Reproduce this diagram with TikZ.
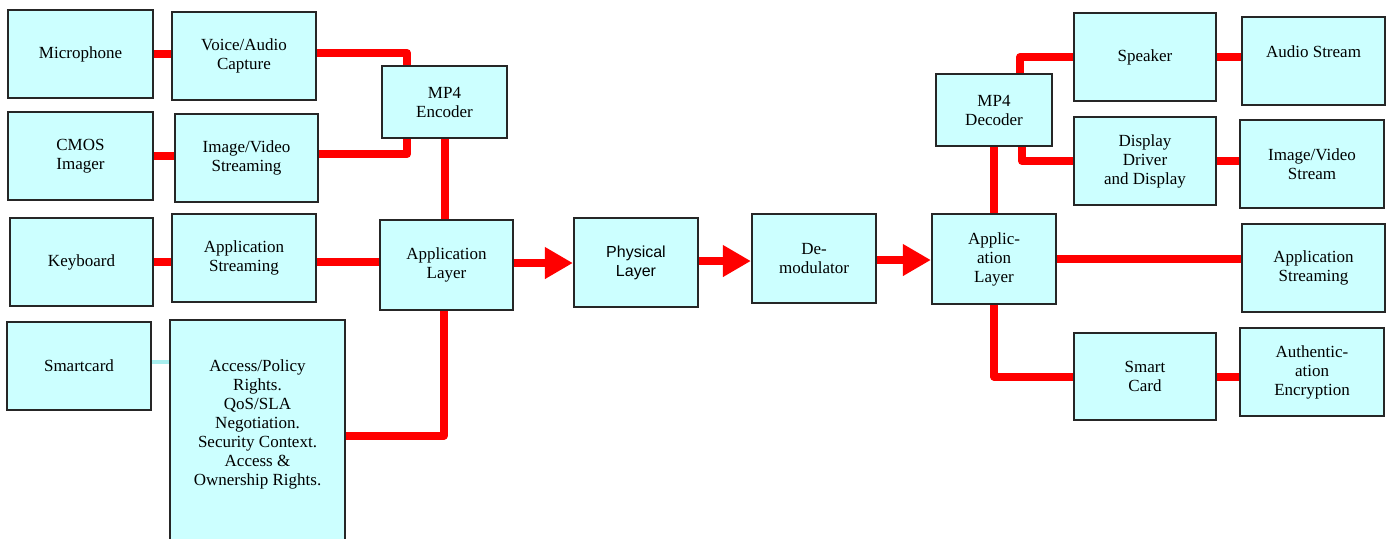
\documentclass[tikz,border=0pt]{standalone}
\usepackage{fontspec}
\setmainfont{Liberation Serif}
\newfontfamily\arialfont{Liberation Sans}
\usetikzlibrary{arrows.meta,backgrounds}
\definecolor{boxfill}{HTML}{CCFFFF}
\definecolor{linkred}{HTML}{FF0000}
\definecolor{paleline}{HTML}{A8EEEE}
\tikzset{
  blk/.style={draw=black!85, line width=1.1pt, fill=boxfill, align=center,
    inner sep=1pt, font=\fontsize{8.5}{9.5}\selectfont},
  redlink/.style={draw=linkred, line width=4pt, line join=round},
  bigarrow/.style={redlink, -{Triangle[width=15pt,length=14pt]}},
  palelink/.style={draw=paleline, line width=2pt}
}
\begin{document}
\begin{tikzpicture}[x=0.5pt,y=-0.5pt]
\useasboundingbox (0,0) rectangle (1391,538);
% left side
\node[blk, minimum width=72.5pt, minimum height=44pt] (mic) at (80.5,54) {Microphone};
\node[blk, minimum width=72pt, minimum height=44pt] (voice) at (244,56) {Voice/Audio\\Capture};
\node[blk, minimum width=72.5pt, minimum height=44pt] (cmos) at (80.5,156) {CMOS\\Imager};
\node[blk, minimum width=71.5pt, minimum height=44pt] (imgv) at (246.5,158) {Image/Video\\Streaming};
\node[blk, minimum width=62.5pt, minimum height=36pt] (enc) at (444.5,102) {MP4\\Encoder};
\node[blk, minimum width=71.5pt, minimum height=44pt] (kbd) at (81.5,262) {Keyboard};
\node[blk, minimum width=72pt, minimum height=44pt] (appS) at (244,258) {Application\\Streaming};
\node[blk, minimum width=66.5pt, minimum height=45pt] (appL) at (446.5,265) {Application\\Layer};
\node[blk, minimum width=72pt, minimum height=44pt] (smart) at (79,366) {Smartcard};
\node[blk, minimum width=87.5pt, minimum height=111pt] (access) at (257.5,431) {\raisebox{3pt}[\height][\depth]{\begin{tabular}{@{}c@{}}Access/Policy\\Rights.\\QoS/SLA\\Negotiation.\\Security Context.\\Access \&\\Ownership Rights.\end{tabular}}};
% middle
\node[blk, minimum width=62pt, minimum height=44.5pt, font=\arialfont\fontsize{8}{9.5}\selectfont] (phys) at (636,262.5) {Physical\\Layer};
\node[blk, minimum width=62pt, minimum height=44.5pt] (demod) at (814,258.5) {De-\\modulator};
% right side
\node[blk, minimum width=62pt, minimum height=45pt] (appR) at (994,259) {Applic-\\ation\\Layer};
\node[blk, minimum width=58pt, minimum height=36pt] (dec) at (994,110) {MP4\\Decoder};
\node[blk, minimum width=71pt, minimum height=44pt] (spk) at (1145,57) {Speaker};
\node[blk, minimum width=71.5pt, minimum height=44pt] (aud) at (1313.5,61) {\raisebox{9pt}{Audio Stream}};
\node[blk, minimum width=71pt, minimum height=44pt] (disp) at (1145,161) {Display\\Driver\\and Display};
\node[blk, minimum width=72pt, minimum height=44pt] (ivs) at (1312,164) {Image/Video\\Stream};
\node[blk, minimum width=71.5pt, minimum height=44pt] (appSR) at (1313.5,268) {Application\\Streaming};
\node[blk, minimum width=71pt, minimum height=43.5pt] (sc) at (1145,376.5) {Smart\\Card};
\node[blk, minimum width=72pt, minimum height=44pt] (auth) at (1312,372) {Authentic-\\ation\\Encryption};
\begin{scope}[on background layer]
\fill[white] (0,0) rectangle (1391,538);
% left connectors
\draw[redlink] (mic.east) -- (voice.west |- mic.east);
\draw[redlink] ([yshift=1.5pt]voice.east) -| ([xshift=-18.75pt]enc.north);
\draw[redlink] (cmos.east) -- (imgv.west |- cmos.east);
\draw[redlink] ([yshift=2pt]imgv.east) -| ([xshift=-18.75pt]enc.south);
\draw[redlink] (enc.south) -- (enc.south |- appL.north);
\draw[redlink] (kbd.east) -- (appS.west |- kbd.east);
\draw[redlink] (appS.east |- kbd.east) -- (appL.west |- kbd.east);
\draw[redlink] ([xshift=-1.5pt]appL.south) |- ([yshift=-2.5pt]access.east);
\draw[palelink] ([yshift=2pt]smart.east) -- ([yshift=2pt]smart.east -| access.west);
% middle arrows
\draw[bigarrow] (appL.east |- 0,263) -- (phys.west |- 0,263);
\draw[bigarrow] (phys.east |- 0,261) -- (demod.west |- 0,261);
\draw[bigarrow] (demod.east |- 0,260) -- (appR.west |- 0,260);
% right connectors
\draw[redlink] (appR.north) -- (dec.south);
\draw[redlink] ([xshift=13pt]dec.north) |- (spk.west);
\draw[redlink] ([xshift=14pt]dec.south) |- (disp.west);
\draw[redlink] (spk.east) -- (aud.west |- spk.east);
\draw[redlink] (disp.east) -- (ivs.west |- disp.east);
\draw[redlink] (appR.east) -- (appSR.west |- appR.east);
\draw[redlink] (appR.south) |- (sc.west);
\draw[redlink] (sc.east) -- (auth.west |- sc.east);
\end{scope}
\end{tikzpicture}
\end{document}
